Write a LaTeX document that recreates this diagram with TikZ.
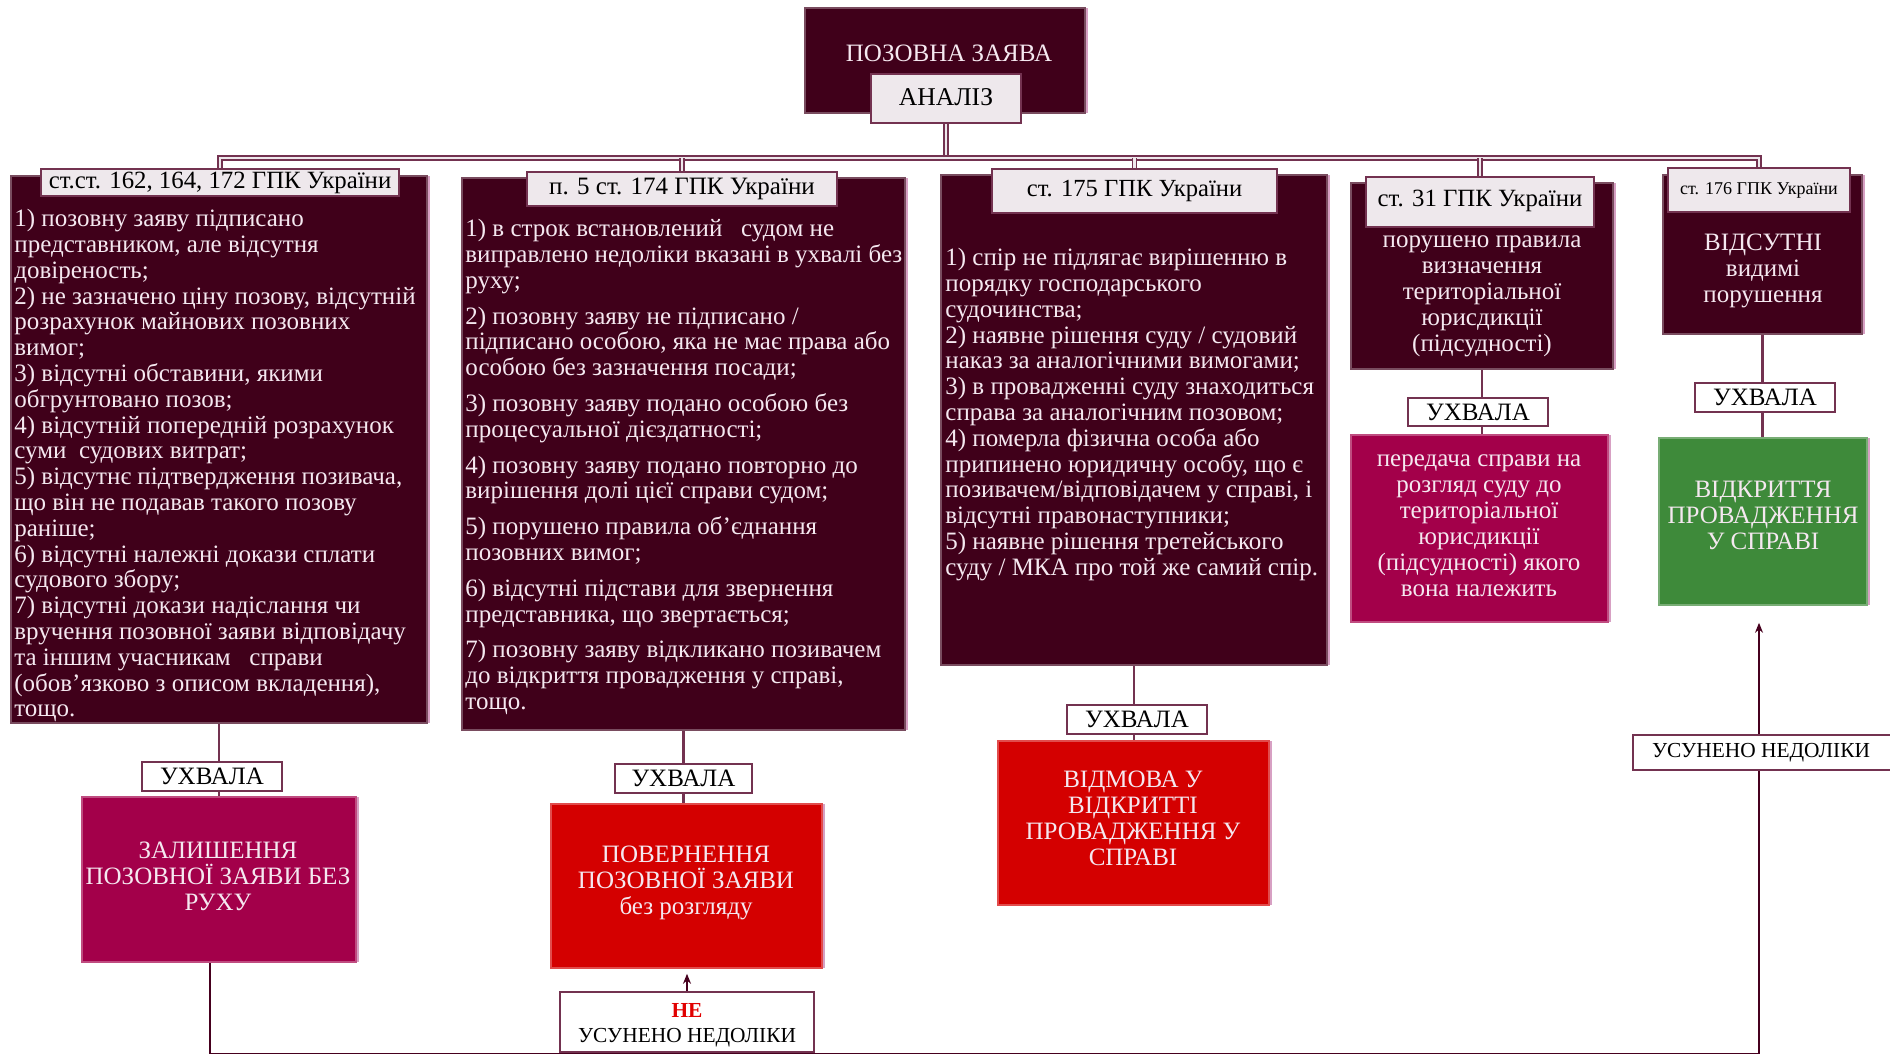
\documentclass[tikz,border=0pt]{standalone}
\usepackage{fontspec}
\setmainfont{Liberation Serif}
\usetikzlibrary{fit,arrows.meta,shadows,calc,backgrounds}

\definecolor{boxdark}{RGB}{64,0,26}
\definecolor{pinkedge}{RGB}{215,160,195}
\definecolor{magbox}{RGB}{163,0,74}
\definecolor{redbox}{RGB}{212,0,0}
\definecolor{greenbox}{RGB}{62,138,58}
\definecolor{lighttext}{RGB}{245,232,240}
\definecolor{hdrfill}{RGB}{238,232,236}
\definecolor{lineclr}{RGB}{115,50,80}
\definecolor{tipclr}{RGB}{70,0,30}
\definecolor{nered}{RGB}{225,0,0}

\tikzset{
  panel/.style={inner sep=0pt, fill=#1, draw=#1!70!white, line width=0.8pt,
    drop shadow={shadow xshift=1.5pt, shadow yshift=0pt, fill=pinkedge, opacity=1}},
  hdr/.style={inner sep=0pt, fill=hdrfill, draw=lineclr, line width=0.7pt},
  ukh/.style={inner sep=0pt, fill=white, draw=lineclr, line width=0.8pt},
  lbl/.style={inner sep=0pt, text=black, font=\fontsize{12.5}{13}\selectfont},
  bodytext/.style={inner sep=0pt, align=left, text=lighttext,
    font=\fontsize{12.5}{12.9}\selectfont},
  ctrtext/.style={inner sep=0pt, align=center, text=lighttext,
    font=\fontsize{12.5}{13}\selectfont},
  tree/.style={draw=lineclr, line width=0.6pt, double=hdrfill, double distance=1.4pt},
  link/.style={draw=lineclr, line width=1.1pt},
  loopline/.style={draw=tipclr, line width=0.8pt},
  arr/.style={draw=tipclr, line width=0.8pt, -{Stealth[length=5pt,width=4pt]}}
}

\begin{document}
\begin{tikzpicture}[x=0.5pt, y=-0.5pt]
\useasboundingbox (0,0) rectangle (1890,1055);
\clip (0,0) rectangle (1890,1055);

% top
\node[panel=boxdark, fit={(805,8) (1085,113)}] (top) {};
\node[ctrtext] (toptxt) at (949,53) {ПОЗОВНА ЗАЯВА};
\node[hdr, fit={(871,74) (1021,123)}] (an) {};
\node[lbl, font=\fontsize{12.8}{14}\selectfont] (antxt) at (946,97) {АНАЛІЗ};

% main boxes
\node[panel=boxdark, fit={(11,176) (427,723)}] (b1) {};
\node[panel=boxdark, fit={(462,178) (905,730)}] (b2) {};
\node[panel=boxdark, fit={(941,175) (1327,665)}] (b3) {};
\node[panel=boxdark, fit={(1351,183) (1613,369)}] (b4) {};
\node[panel=boxdark, fit={(1663,175) (1862,334)}] (b5) {};

% headers
\node[hdr, fit={(41,169) (399,196)}] (h1) {};
\node[hdr, fit={(527,172) (837,206)}] (h2) {};
\node[hdr, fit={(992,169) (1277,213)}] (h3) {};
\node[hdr, fit={(1366,177) (1594,227)}] (h4) {};
\node[hdr, fit={(1668,168) (1850,212)}] (h5) {};
\node[lbl, font=\fontsize{12.4}{14}\selectfont] (h1t) at (h1.center) {ст.ст. 162, 164, 172 ГПК України};
\node[lbl] (h2t) at (h2.center) {п. 5 ст. 174 ГПК України};
\node[lbl, font=\fontsize{12.3}{14}\selectfont] (h3t) at (h3.center) {ст. 175 ГПК України};
\node[lbl, font=\fontsize{12.4}{14}\selectfont] (h4t) at ($(h4.center)+(0,-1)$) {ст. 31 ГПК України};
\node[lbl, font=\fontsize{9}{10}\selectfont] (h5t) at (h5.center) {ст. 176 ГПК України};

% body texts
\node[bodytext, anchor=north west] (t1) at (14,209) {1) позовну заяву підписано\\
представником, але відсутня\\
довіреность;\\
2) не зазначено ціну позову, відсутній\\
розрахунок майнових позовних\\
вимог;\\
3) відсутні обставини, якими\\
обгрунтовано позов;\\
4) відсутній попередній розрахунок\\
суми\ \ судових витрат;\\
5) відсутнє підтвердження позивача,\\
що він не подавав такого позову\\
раніше;\\
6) відсутні належні докази сплати\\
судового збору;\\
7) відсутні докази надіслання чи\\
вручення позовної заяви відповідачу\\
та іншим учасникам\ \ \ справи\\
(обов’язково з описом вкладення),\\
тощо.};

\node[bodytext, anchor=north west] (t2) at (465,219) {1) в строк встановлений\ \ \ судом не\\
виправлено недоліки вказані в ухвалі без\\
руху;\\[5pt]
2) позовну заяву не підписано /\\
підписано особою, яка не має права або\\
особою без зазначення посади;\\[5pt]
3) позовну заяву подано особою без\\
процесуальної дієздатності;\\[5pt]
4) позовну заяву подано повторно до\\
вирішення долі цієї справи судом;\\[5pt]
5) порушено правила об’єднання\\
позовних вимог;\\[5pt]
6) відсутні підстави для звернення\\
представника, що звертається;\\[5pt]
7) позовну заяву відкликано позивачем\\
до відкриття провадження у справі,\\
тощо.};

\node[bodytext, anchor=north west] (t3) at (945,248) {1) спір не підлягає вирішенню в\\
порядку господарського\\
судочинства;\\
2) наявне рішення суду / судовий\\
наказ за аналогічними вимогами;\\
3) в провадженні суду знаходиться\\
справа за аналогічним позовом;\\
4) померла фізична особа або\\
припинено юридичну особу, що є\\
позивачем/відповідачем у справі, і\\
відсутні правонаступники;\\
5) наявне рішення третейського\\
суду / МКА про той же самий спір.};

\node[ctrtext] (t4) at (1482,296) {порушено правила\\визначення\\територіальної\\юрисдикції\\(підсудності)};
\node[ctrtext] (t5) at (1763,270.5) {ВІДСУТНІ\\видимі\\порушення};

% УХВАЛА boxes
\node[ukh, fit={(142,762) (282,791)}] (u1) {};
\node[ukh, fit={(615,764) (752,793)}] (u2) {};
\node[ukh, fit={(1067,705) (1207,734)}] (u3) {};
\node[ukh, fit={(1408,398) (1548,426)}] (u4) {};
\node[ukh, fit={(1695,383) (1835,412)}] (u5) {};
\node[lbl] (u1t) at (u1.center) {УХВАЛА};
\node[lbl] (u2t) at (u2.center) {УХВАЛА};
\node[lbl] (u3t) at (u3.center) {УХВАЛА};
\node[lbl] (u4t) at (u4.center) {УХВАЛА};
\node[lbl] (u5t) at (u5.center) {УХВАЛА};

% result boxes
\node[panel=magbox, fit={(82,797) (356,962)}] (r1) {};
\node[panel=redbox, fit={(551,804) (822,968)}] (r2) {};
\node[panel=redbox, fit={(998,741) (1269,905)}] (r3) {};
\node[panel=magbox, fit={(1351,435) (1608,622)}] (r4) {};
\node[panel=greenbox, fit={(1659,438) (1867,605)}] (r5) {};

\node[ctrtext] (rt1) at (218,876) {ЗАЛИШЕННЯ\\ПОЗОВНОЇ ЗАЯВИ БЕЗ\\РУХУ};
\node[ctrtext] (rt2) at (686,882.5) {ПОВЕРНЕННЯ\\ПОЗОВНОЇ ЗАЯВИ\\без розгляду};
\node[ctrtext] (rt3) at (1133,818) {ВІДМОВА У\\ВІДКРИТТІ\\ПРОВАДЖЕННЯ У\\СПРАВІ};
\node[ctrtext] (rt4) at (1479,526) {передача справи на\\розгляд суду до\\територіальної\\юрисдикції\\(підсудності) якого\\вона належить};
\node[ctrtext] (rt5) at (1763,515) {ВІДКРИТТЯ\\ПРОВАДЖЕННЯ\\У СПРАВІ};

% outcome boxes
\node[ukh, fit={(560,992) (814,1052)}] (ne) {};
\node[lbl, align=center, font=\fontsize{10.7}{12.5}\selectfont] (net) at ($(ne.center)+(0,3.5)$) {{\color{nered}\bfseries НЕ}\\УСУНЕНО НЕДОЛІКИ};
\node[ukh, fit={(1633,735) (1892,770)}] (us) {};
\node[lbl, font=\fontsize{10.7}{12}\selectfont] (ust) at (1761,752.5) {УСУНЕНО НЕДОЛІКИ};

\begin{scope}[on background layer]
  \coordinate (bus) at (946,158);
  \draw[tree] (an.south) -- (bus);
  \draw[tree] (h1.north) -- (h1.north |- bus) -- (h5.north |- bus) -- (h5.north);
  \draw[tree] (h2.north) -- (h2.north |- bus);
  \draw[tree] (h3.north) -- (h3.north |- bus);
  \draw[tree] (h4.north) -- (h4.north |- bus);

  \draw[link] (b1.south) -- (r1.north -| b1.south);
  \draw[link] (b2.south) -- (r2.north -| b2.south);
  \draw[link] (b3.south) -- (r3.north -| b3.south);
  \draw[link] (b4.south) -- (r4.north -| b4.south);
  \draw[link] (b5.south) -- (r5.north -| b5.south);

  \coordinate (c1) at (210,1053.5);
  \coordinate (c2) at (1759,1053.5);
  \draw[loopline] (r1.south -| c1) -- (c1) -- (c2) -- (us.south -| c2);
  \draw[arr] (us.north -| c2) -- ([yshift=-8.5pt]r5.south -| c2);
  \draw[arr] (ne.north) -- ([yshift=-2.5pt]r2.south -| ne.north);
\end{scope}
\end{tikzpicture}
\end{document}
